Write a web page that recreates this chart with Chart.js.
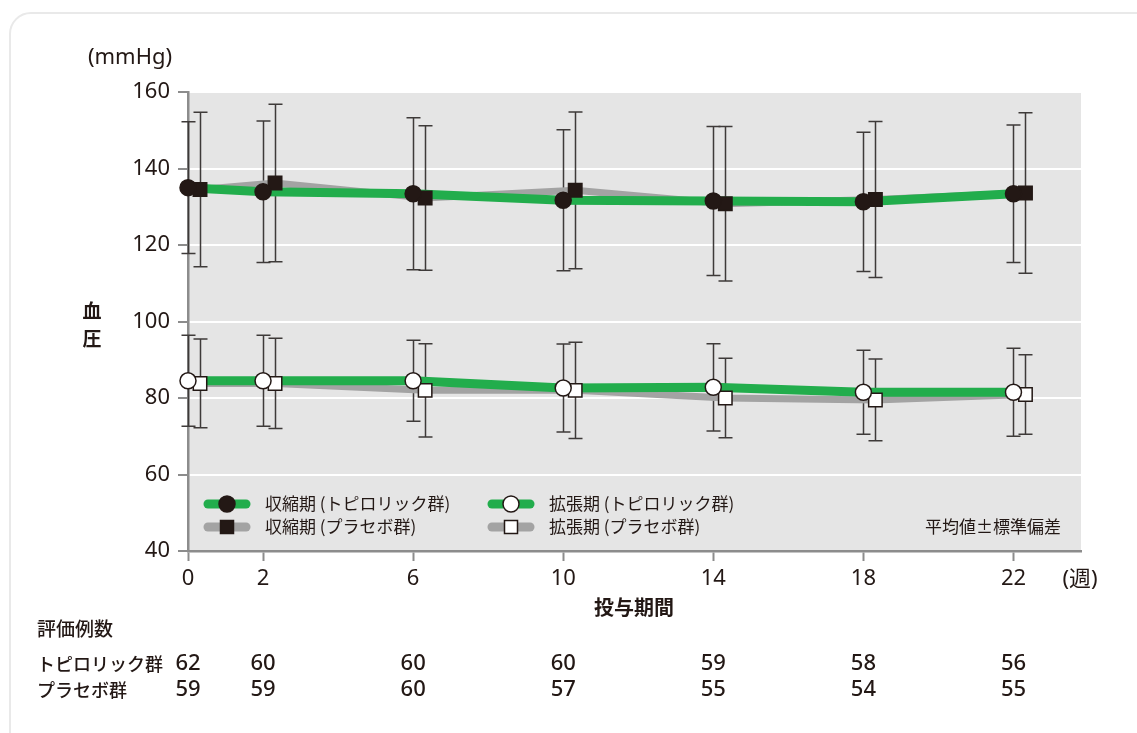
<!DOCTYPE html>
<html>
<head>
<meta charset="utf-8">
<script src="https://cdn.jsdelivr.net/npm/chart.js@4.4.0/dist/chart.umd.min.js"></script>
<style>
html, body { margin: 0; padding: 0; background: #fff; }
#wrap { position: relative; width: 1137px; height: 733px; overflow: hidden; }
#card { position: absolute; left: 9px; top: 12px; width: 1180px; height: 780px; border: 2px solid #e9e9e9; border-radius: 22px; box-sizing: border-box; }
canvas { position: absolute; left: 0; top: 0; }
</style>
</head>
<body>
<div id="wrap"><div id="card"></div><canvas id="bp" width="1137" height="733"></canvas></div>
<script>
// 投与期間 (週)
var weeks = [0, 2, 6, 10, 14, 18, 22];

// 収縮期 平均値 / 標準偏差
var sysTopi   = [135.0, 133.9, 133.4, 131.7, 131.5, 131.3, 133.4];
var sysTopiSd = [17.2, 18.5, 19.9, 18.4, 19.5, 18.2, 18.0];
var sysPlac   = [134.5, 136.2, 132.3, 134.3, 130.8, 131.9, 133.6];
var sysPlacSd = [20.2, 20.6, 18.9, 20.5, 20.2, 20.4, 21.0];

// 拡張期 平均値 / 標準偏差
var diaTopi   = [84.5, 84.5, 84.5, 82.6, 82.8, 81.5, 81.5];
var diaTopiSd = [11.9, 11.9, 10.6, 11.5, 11.4, 11.0, 11.5];
var diaPlac   = [83.8, 83.8, 82.0, 82.0, 80.0, 79.5, 80.9];
var diaPlacSd = [11.6, 11.8, 12.2, 12.6, 10.4, 10.7, 10.4];

// 評価例数
var nTopi = [62, 60, 60, 60, 59, 58, 56];
var nPlac = [59, 59, 60, 57, 55, 54, 55];

var yTicks = [40, 60, 80, 100, 120, 140, 160];

var GREEN = '#22ad4c';
var GRAY = '#a3a3a3';
var INK = '#231815';
var AXIS = '#8c8c8c';
var NUMFONT = "'Noto Sans', 'Noto Sans CJK JP', sans-serif";
var JPFONT = "'Noto Sans CJK JP', sans-serif";

// プラセボ群は少し右にずらして描く
var shift = 0.32;

function pts(xs, ys, dx) {
  return xs.map(function(v, i){ return { x: v + dx, y: ys[i] }; });
}

var bgPlugin = {
  id: 'bg',
  beforeDraw: function(chart){
    var a = chart.chartArea, ctx = chart.ctx;
    ctx.save();
    ctx.fillStyle = '#e5e5e5';
    ctx.fillRect(a.left, a.top, a.right - a.left, a.bottom - a.top);
    ctx.restore();
  }
};

var errorBars = {
  id: 'errorBars',
  beforeDatasetsDraw: function(chart){
    var ctx = chart.ctx, x = chart.scales.x, y = chart.scales.y;
    ctx.save();
    ctx.strokeStyle = '#3e3a39';
    ctx.lineWidth = 1.5;
    chart.data.datasets.forEach(function(ds){
      if (!ds.sd) return;
      ds.data.forEach(function(p, i){
        var px = Math.round(x.getPixelForValue(p.x)) + 0.5;
        var t = y.getPixelForValue(p.y + ds.sd[i]);
        var b = y.getPixelForValue(p.y - ds.sd[i]);
        ctx.beginPath();
        ctx.moveTo(px, t); ctx.lineTo(px, b);
        ctx.moveTo(px - 7, t); ctx.lineTo(px + 7, t);
        ctx.moveTo(px - 7, b); ctx.lineTo(px + 7, b);
        ctx.stroke();
      });
    });
    ctx.restore();
  }
};

function drawMarker(ctx, style, filled, cx, cy) {
  ctx.save();
  ctx.fillStyle = filled ? INK : '#fff';
  ctx.strokeStyle = INK;
  ctx.lineWidth = 1.5;
  ctx.beginPath();
  if (style === 'rect') ctx.rect(cx - 6.5, cy - 6.5, 13, 13);
  else ctx.arc(cx, cy, 8, 0, Math.PI * 2);
  ctx.fill();
  ctx.stroke();
  ctx.restore();
}

var legendItems = [
  { text: '収縮期 (トピロリック群)', color: GREEN, style: 'circle', filled: true, col: 0, row: 0 },
  { text: '収縮期 (プラセボ群)', color: GRAY, style: 'rect', filled: true, col: 0, row: 1 },
  { text: '拡張期 (トピロリック群)', color: GREEN, style: 'circle', filled: false, col: 1, row: 0 },
  { text: '拡張期 (プラセボ群)', color: GRAY, style: 'rect', filled: false, col: 1, row: 1 }
];

var labelsPlugin = {
  id: 'labels',
  afterDraw: function(chart){
    var ctx = chart.ctx, x = chart.scales.x;
    ctx.save();

    // 凡例
    legendItems.forEach(function(it){
      var cx = it.col === 0 ? 227 : 511;
      var cy = it.row === 0 ? 504 : 527;
      ctx.strokeStyle = it.color;
      ctx.lineWidth = 9;
      ctx.lineCap = 'round';
      ctx.beginPath();
      ctx.moveTo(cx - 19, cy); ctx.lineTo(cx + 19, cy);
      ctx.stroke();
      drawMarker(ctx, it.style, it.filled, cx, cy);
      ctx.fillStyle = INK;
      ctx.font = '17px ' + JPFONT;
      ctx.textAlign = 'left';
      ctx.textBaseline = 'middle';
      ctx.fillText(it.text, cx + 38, cy);
    });

    ctx.fillStyle = INK;
    ctx.textBaseline = 'middle';

    ctx.font = '17px ' + JPFONT;
    ctx.textAlign = 'right';
    ctx.fillText('平均値±標準偏差', 1061, 527);

    ctx.font = '22px ' + NUMFONT;
    ctx.textAlign = 'center';
    ctx.fillText('(mmHg)', 130, 58);
    ctx.fillText('(週)', 1080, 580);

    ctx.font = 'bold 19px ' + JPFONT;
    ctx.fillText('血', 92, 311);
    ctx.fillText('圧', 92, 339);

    ctx.font = 'bold 20px ' + JPFONT;
    ctx.fillText('投与期間', 634, 607);

    // 評価例数
    ctx.textAlign = 'left';
    ctx.font = '500 19px ' + JPFONT;
    ctx.fillText('評価例数', 37, 629);
    ctx.font = '500 18px ' + JPFONT;
    ctx.fillText('トピロリック群', 37, 664);
    ctx.fillText('プラセボ群', 37, 690);

    ctx.textAlign = 'center';
    ctx.font = '500 22px ' + NUMFONT;
    weeks.forEach(function(w, i){
      var px = x.getPixelForValue(w);
      ctx.fillText(String(nTopi[i]), px, 664);
      ctx.fillText(String(nPlac[i]), px, 690);
    });
    ctx.restore();
  }
};

function markerSet(xs, ys, sd, dx, style, filled, r) {
  return {
    data: pts(xs, ys, dx), sd: sd, showLine: false, clip: false,
    pointStyle: style, pointRadius: r, pointHoverRadius: r,
    pointBackgroundColor: filled ? INK : '#fff',
    pointBorderColor: INK, pointBorderWidth: 1.5
  };
}

function lineSet(xs, ys, dx, color, w) {
  return {
    data: pts(xs, ys, dx), showLine: true, borderColor: color,
    borderWidth: w, pointRadius: 0, pointHoverRadius: 0, tension: 0
  };
}

new Chart(document.getElementById('bp'), {
  type: 'scatter',
  data: {
    // 先頭のデータセットが最前面に描かれる
    datasets: [
      markerSet(weeks, sysTopi, sysTopiSd, 0, 'circle', true, 8),
      markerSet(weeks, diaTopi, diaTopiSd, 0, 'circle', false, 8),
      markerSet(weeks, sysPlac, sysPlacSd, shift, 'rect', true, 9.5),
      markerSet(weeks, diaPlac, diaPlacSd, shift, 'rect', false, 9.5),
      lineSet(weeks, sysTopi, 0, GREEN, 9),
      lineSet(weeks, diaTopi, 0, GREEN, 9),
      lineSet(weeks, sysPlac, shift, GRAY, 7),
      lineSet(weeks, diaPlac, shift, GRAY, 7)
    ]
  },
  options: {
    responsive: false,
    animation: false,
    events: [],
    layout: { padding: { left: 0, right: 56, top: 92, bottom: 142 } },
    plugins: { legend: { display: false }, tooltip: { enabled: false } },
    scales: {
      x: {
        type: 'linear', min: 0, max: 23.8,
        afterBuildTicks: function(s){ s.ticks = weeks.map(function(v){ return { value: v }; }); },
        afterFit: function(s){ s.height = 40; },
        grid: { drawOnChartArea: false, tickLength: 10, tickColor: AXIS, tickWidth: 2 },
        border: { color: AXIS, width: 2.5 },
        ticks: { color: INK, font: { family: NUMFONT, size: 22 }, padding: 5, maxRotation: 0, autoSkip: false }
      },
      y: {
        min: 40, max: 160,
        afterBuildTicks: function(s){ s.ticks = yTicks.map(function(v){ return { value: v }; }); },
        afterFit: function(s){ s.width = 188; },
        grid: { color: '#ffffff', lineWidth: 2, tickLength: 10, tickColor: AXIS, tickWidth: 2 },
        border: { color: AXIS, width: 2.5 },
        ticks: { color: INK, font: { family: NUMFONT, size: 22 }, padding: 8 }
      }
    }
  },
  plugins: [bgPlugin, errorBars, labelsPlugin]
});
</script>
</body>
</html>
